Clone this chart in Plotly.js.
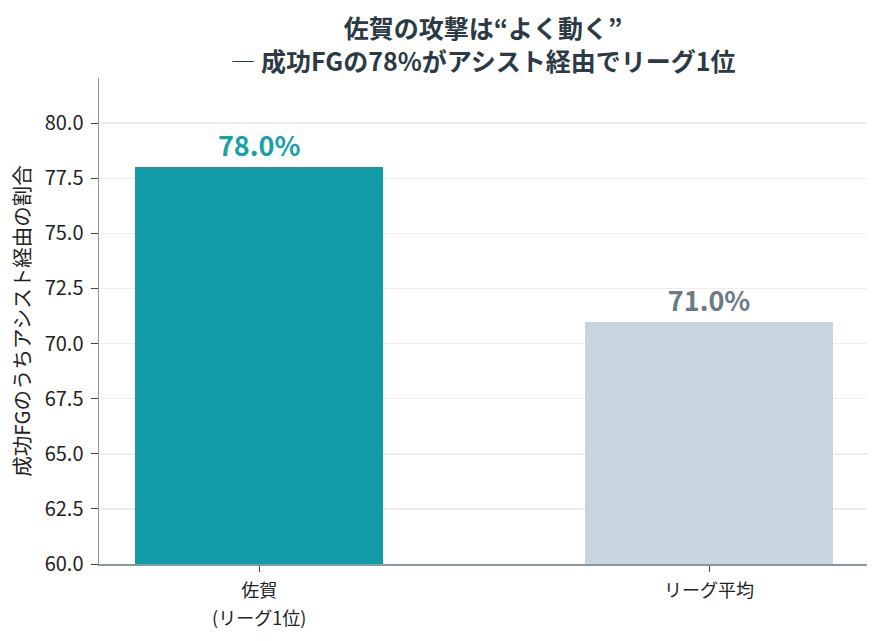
<!DOCTYPE html>
<html><head><meta charset="utf-8">
<script src="https://cdn.plot.ly/plotly-3.0.1.min.js"></script>
<style>html,body{margin:0;padding:0;background:#fff}#chart{width:882px;height:641px}</style>
</head><body><div id="chart"></div>
<script>
const categories = ["佐賀", "リーグ平均"];
const categoryNotes = ["(リーグ1位)", ""];
const values = [78.0, 71.0];
const labels = ["78.0%", "71.0%"];
const barColors = ["#109ba7", "#c9d5de"];
const labelColors = ["#17a0a8", "#6b7a85"];
const yTicks = [60, 62.5, 65, 67.5, 70, 72.5, 75, 77.5, 80];
const yTickText = ["60.0","62.5","65.0","67.5","70.0","72.5","75.0","77.5","80.0"];

const F = '"Noto Sans CJK JP", "Noto Sans", sans-serif';
const sp = s => "<span style='font-size:18px'>" + s + "</span>";
const tickText = categories.map((c, i) => categoryNotes[i] ? sp(c) + "<br>" + sp(categoryNotes[i]) : sp(c));

const trace = {
  type: 'bar', x: [0, 1], y: values, width: 0.55,
  marker: {color: barColors, line: {width: 0}},
  text: labels, textposition: 'outside', cliponaxis: false,
  textfont: {family: F, size: 27, color: labelColors, weight: 'bold'},
  hoverinfo: 'none'
};
const layout = {
  width: 882, height: 641,
  margin: {l: 99, r: 15, t: 78, b: 77},
  paper_bgcolor: '#fff', plot_bgcolor: '#fff',
  font: {family: F, color: '#222'},
  title: {text: '<b>佐賀の攻撃は“よく動く”</b><br>― <b>成功FGの78%がアシスト経由でリーグ1位</b>',
    font: {family: F, size: 25, color: '#2b3a44'}, xref: 'paper', x: 0.5, xanchor: 'center', y: 0.94, yanchor: 'top'},
  xaxis: {range: [-0.356, 1.351], tickvals: [0, 1], ticktext: tickText,
    showline: true, linecolor: '#8c969e', linewidth: 1.5, ticks: 'outside', ticklen: 6, tickcolor: '#444',
    tickfont: {family: F, size: 21.5, color: '#222'}, showgrid: false, zeroline: false, fixedrange: true},
  yaxis: {range: [60, 82.05], tickvals: yTicks, ticktext: yTickText,
    showline: true, linecolor: '#8c969e', linewidth: 1.5, ticks: 'outside', ticklen: 7, tickcolor: '#444',
    tickfont: {family: F, size: 20, color: '#222'}, ticklabelstandoff: 3,
    showgrid: true, gridcolor: 'rgba(170,175,180,0.22)', gridwidth: 1.5, zeroline: false, layer: 'above traces',
    title: {text: '成功FGのうちアシスト経由の割合', font: {family: F, size: 20.5, color: '#222'}, standoff: 8}},
  showlegend: false, bargap: 0
};
Plotly.newPlot('chart', [trace], layout, {displayModeBar: false, staticPlot: true});
</script></body></html>
